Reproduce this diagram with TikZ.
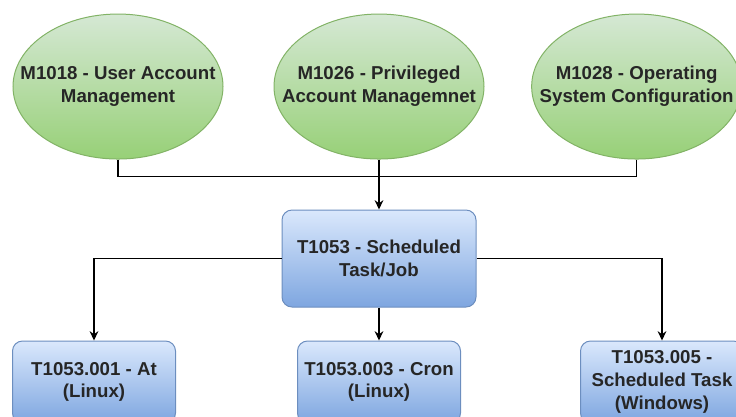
\documentclass[tikz,border=0pt]{standalone}
\usepackage{fontspec}
\setmainfont{Liberation Sans}
\usepackage{tikz}
\usetikzlibrary{shapes.geometric}
\usetikzlibrary{positioning}
\usetikzlibrary{arrows.meta, calc}

\definecolor{mitfill}{HTML}{D5E8D4}
\definecolor{mitgrad}{HTML}{97D077}
\definecolor{mitline}{HTML}{82B366}
\definecolor{techfill}{HTML}{DAE8FC}
\definecolor{techgrad}{HTML}{7EA6E0}
\definecolor{techline}{HTML}{6C8EBF}

\begin{document}
\begin{tikzpicture}
  [
    node distance=37.5pt,
    every node/.style={font=\fontsize{14}{17}\selectfont\bfseries, text=black!85, align=center},
    align=center
  ]
      \tikzset{
        >={Stealth[width=6.5pt,length=7pt]},
        base/.style = {draw, line width=0.75pt, inner sep=0pt, text centered},
        mitstyle/.style = {base, ellipse, draw=mitline, top color=mitfill, bottom color=mitgrad,
                           minimum width=157.5pt, minimum height=108.75pt},
        block/.style = {base, rectangle, rounded corners=7.5pt},
        techstyle/.style = {block, draw=techline, top color=techfill, bottom color=techgrad,
                            minimum width=145.5pt, minimum height=72.75pt},
        subtechstyle/.style = {techstyle, minimum width=122.25pt, minimum height=61.5pt},
        link/.style = {line width=1.1pt, black},
    }
    \clip (0,0) rectangle (552pt,-312.75pt);

    \node (task) [techstyle] at (284.25pt,-193.9pt) {T1053 - Scheduled\\Task/Job};

    \node (m1026) [mitstyle, above=37.5pt of task, label={center:M1026 - Privileged\\Account Managemnet}] {};
    \node (m1018) [mitstyle, left=37.5pt of m1026, label={center:M1018 - User Account\\Management}] {};
    \node (m1028) [mitstyle, right=35pt of m1026, label={center:M1028 - Operating\\System Configuration}] {};

    \node (at) [subtechstyle, below=24.75pt of task, xshift=-213.75pt] {T1053.001 - At\\(Linux)};
    \node (cron) [subtechstyle, below=24.75pt of task] {T1053.003 - Cron\\(Linux)};
    \node (win) [subtechstyle, below=24.75pt of task, xshift=212.25pt] {T1053.005 -\\Scheduled Task\\(Windows)};

    \coordinate (merge) at ($(task.north)+(0,24.75pt)$);
    \draw[link] (m1018.south) |- (merge);
    \draw[link] (m1028.south) |- (merge);
    \draw[link,->] (m1026.south) -- (task.north);
    \draw[link,->] (task.west) -| (at.north);
    \draw[link,->] (task.south) -- (cron.north);
    \draw[link,->] (task.east) -| (win.north);
\end{tikzpicture}
\end{document}
